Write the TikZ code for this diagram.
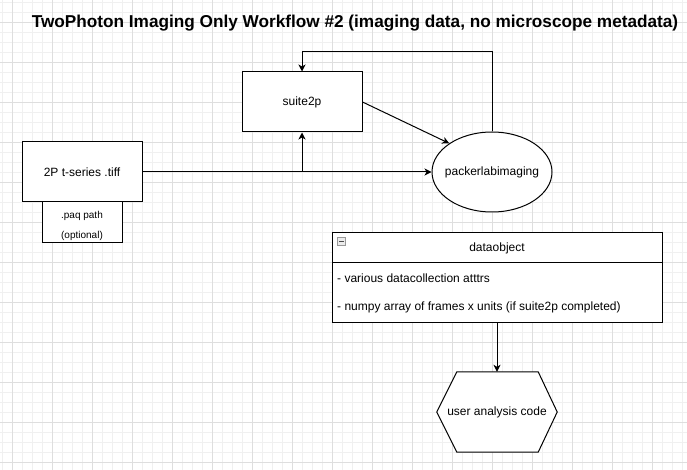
\documentclass[tikz,border=0pt]{standalone}
\usepackage{fontspec}
\setmainfont{Liberation Sans}
\usetikzlibrary{arrows.meta,shapes.geometric}
\definecolor{gridminor}{RGB}{240,240,240}
\definecolor{gridmajor}{RGB}{222,222,222}
\begin{document}
\begin{tikzpicture}[x=1pt,y=-1pt,
  box/.style={draw=black,line width=1pt,fill=white,inner sep=0pt,font=\fontsize{12}{14}\selectfont},
  conn/.style={line width=1pt,-{Stealth[length=7pt,width=7pt,inset=2pt]}},
  plain/.style={line width=1pt},
  lbl/.style={inner sep=0pt,font=\fontsize{12}{14}\selectfont}]
\useasboundingbox (0,0) rectangle (687,470);
\fill[white] (0,0) rectangle (687,470);
% grid
\foreach \x in {2,12,...,682} \draw[gridminor,line width=0.6pt] (\x,0) -- (\x,470);
\foreach \y in {2,12,...,462} \draw[gridminor,line width=0.6pt] (0,\y) -- (687,\y);
\foreach \x in {12,52,...,682} \draw[gridmajor,line width=0.6pt] (\x,0) -- (\x,470);
\foreach \y in {22,62,...,462} \draw[gridmajor,line width=0.6pt] (0,\y) -- (687,\y);
% title
\node[inner sep=0pt,font=\fontsize{17.2}{20}\selectfont\bfseries] (title) at (355,23) {TwoPhoton Imaging Only Workflow \#2 (imaging data, no microscope metadata)};
% nodes
\node[box,minimum width=120pt,minimum height=60pt] (tiff) at (82,172) {2P t-series .tiff};
\node[box,minimum width=80pt,minimum height=40pt] (paq) at (82,222) {};
\node[lbl,font=\fontsize{10}{12}\selectfont] (paq1) at (82,216) {.paq path};
\node[lbl,font=\fontsize{10}{12}\selectfont] (paq2) at (82,236) {(optional)};
\node[box,minimum width=120pt,minimum height=60pt] (suite) at (302,102) {suite2p};
\node[box,ellipse,minimum width=120pt,minimum height=80pt] (pli) at (492,172) {};
\node[lbl] (plitext) at (pli.center) {packerlabimaging};
% dataobject
\node[box,minimum width=330pt,minimum height=90pt] (data) at (497,277) {};
\coordinate (hdrL) at (332,262);
\coordinate (hdrR) at (662,262);
\draw[plain] (hdrL) -- (hdrR);
\node[lbl] (dhead) at (497,248) {dataobject};
\node[lbl,anchor=west] (d1) at (337,278) {- various datacollection atttrs};
\node[lbl,anchor=west] (d2) at (337,307) {- numpy array of frames x units (if suite2p completed)};
\node[draw=gray!80,fill=gray!15,line width=0.6pt,minimum size=8pt,inner sep=0pt] (icon) at (341.5,241.5) {};
\draw[black!70,line width=0.8pt] ([xshift=-2.5pt]icon.center) -- ([xshift=2.5pt]icon.center);
% hexagon
\node[inner sep=0pt,minimum width=120pt,minimum height=80pt] (user) at (497,412) {};
\draw[plain,fill=white] (user.west) -- ([xshift=20pt]user.north west) -- ([xshift=-19pt]user.north east) -- (user.east) -- ([xshift=-19pt]user.south east) -- ([xshift=20pt]user.south west) -- cycle;
\node[lbl] (usertext) at (user.center) {user analysis code};
% connectors
\coordinate (branch) at (302,172);
\draw[conn] (tiff.east) -- (pli.west);
\draw[conn] (branch) -- (suite.south);
\draw[conn] (suite.east |- 0,102) -- (pli.north west);
\coordinate (loopR) at (492,52);
\coordinate (loopL) at (302,52);
\draw[conn] (pli.north) -- (loopR) -- (loopL) -- (suite.north);
\draw[conn] (data.south) -- (user.north);
\end{tikzpicture}
\end{document}
